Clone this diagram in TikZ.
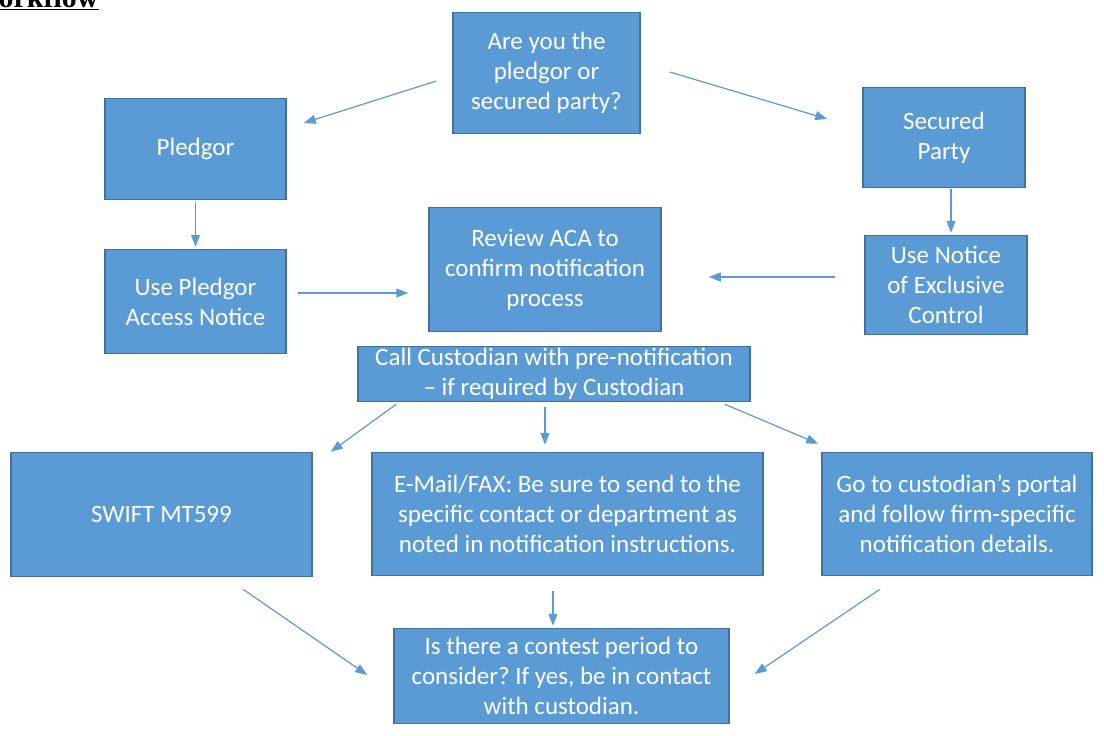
\documentclass[tikz,border=0pt]{standalone}
\usepackage{fontspec}
\setmainfont{Carlito}
\newfontfamily\titlefont{Liberation Serif}
\usetikzlibrary{arrows.meta, positioning}
\definecolor{boxblue}{HTML}{5B9BD5}
\definecolor{edgeblue}{HTML}{41719C}
\tikzstyle{block}=[draw=edgeblue,line width=1.5pt,fill=boxblue,rectangle,text=white,align=center,inner sep=0pt]
\tikzstyle{arr}=[-{Triangle[length=12pt,width=9pt]},draw=boxblue,line width=1.2pt]
\tikzstyle{every node}=[font=\fontsize{25}{30}\selectfont]
\frenchspacing

\begin{document}
\begin{tikzpicture}[x=1pt,y=-1pt]
  \useasboundingbox (0,0) rectangle (1104,736);
  \node[anchor=base west, inner sep=0pt, font=\titlefont\bfseries\fontsize{30}{36}\selectfont] (title) at (-30,7) {\underline{Workflow}};
  % top row
  \node[block, minimum width=187pt, minimum height=121pt] (ask) at (546.5,73) {Are you the\\pledgor or\\secured party?};
  \node[block, minimum width=181pt, minimum height=101pt] (pledgor) at (195.5,149) {Pledgor};
  \node[block, minimum width=162pt, minimum height=100pt] (secured) at (944,137.5) {Secured\\Party};
  % notices
  \node[block, below of=pledgor, node distance=152.5pt, minimum width=181pt, minimum height=104pt] (usepa) {Use Pledgor\\Access Notice};
  \node[block, minimum width=162pt, minimum height=99pt] (usenec) at (946,285) {Use Notice\\of Exclusive\\Control};
  \node[block, minimum width=232pt, minimum height=124pt] (review) at (545,269.5) {Review ACA to\\confirm notification\\process};
  \node[block, minimum width=392pt, minimum height=55pt] (call) at (554,374) {Call Custodian with pre-notification\\– if required by Custodian};
  % delivery
  \node[block, minimum width=301pt, minimum height=124pt] (swift) at (161.5,514.5) {SWIFT MT599};
  \node[block, minimum width=391pt, minimum height=123pt] (email) at (567.5,514) {E-Mail/FAX: Be sure to send to the\\specific contact or department as\\noted in notification instructions.};
  \node[block, minimum width=270pt, minimum height=123pt] (portal) at (957,514) {Go to custodian’s portal\\and follow firm-specific\\notification details.};
  \node[block, minimum width=335pt, minimum height=95pt] (contest) at (561.5,676) {Is there a contest period to\\consider? If yes, be in contact\\with custodian.};

  \draw[arr] ([shift={(-16,8)}]ask.west) -- ([shift={(17,-26)}]pledgor.east);
  \draw[arr] ([shift={(29,-1)}]ask.east) -- ([shift={(-35,-18.5)}]secured.west);
  \draw[arr] ([shift={(0,2)}]pledgor.south) -- ([shift={(0,-2)}]usepa.north);
  \draw[arr] ([shift={(7,1)}]secured.south) -- ([shift={(5,-2)}]usenec.north);
  \draw[arr] ([shift={(11,-8.5)}]usepa.east) -- ([shift={(-20,23.5)}]review.west);
  \draw[arr] ([shift={(-29,-8)}]usenec.west) -- ([shift={(47,7.5)}]review.east);
  \draw[arr] ([shift={(39,2)}]call.south west) -- ([shift={(18,0)}]swift.north east);
  \draw[arr] ([shift={(-9,5)}]call.south) -- ([shift={(-22.5,-7)}]email.north);
  \draw[arr] ([shift={(-26,2)}]call.south east) -- ([shift={(-3,-8)}]portal.north west);
  \draw[arr] ([shift={(81.5,12)}]swift.south) -- ([shift={(-26,-1)}]contest.west);
  \draw[arr] ([shift={(-14.5,15)}]email.south) -- ([shift={(-8.5,-2)}]contest.north);
  \draw[arr] ([shift={(-77,13)}]portal.south) -- ([shift={(25,-2)}]contest.east);
\end{tikzpicture}
\end{document}
